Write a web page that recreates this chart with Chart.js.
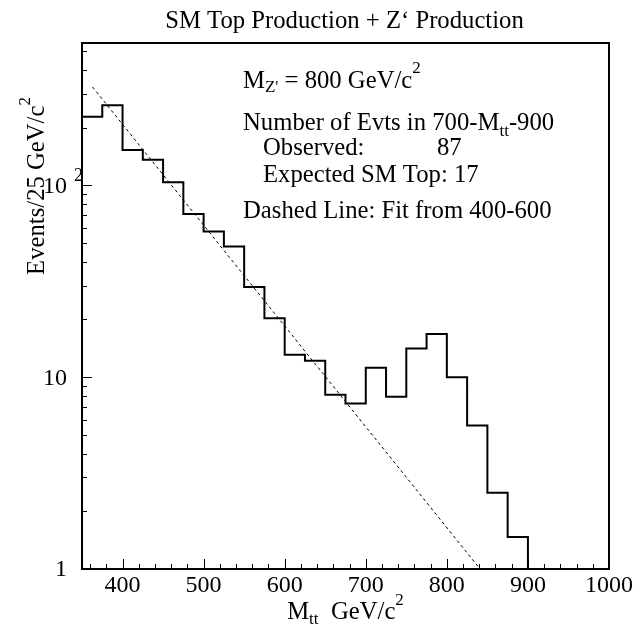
<!DOCTYPE html>
<html>
<head>
<meta charset="utf-8">
<script src="https://cdn.jsdelivr.net/npm/chart.js@4.4.1/dist/chart.umd.min.js"></script>
<style>html,body{margin:0;padding:0;background:#fff}canvas{display:block}</style>
</head>
<body>
<canvas id="c" width="638" height="627"></canvas>
<script>
// ---- data ----
const binLow = [350,375,400,425,450,475,500,525,550,575,600,625,650,675,700,725,750,775,800,825,850,875,900,925,950,975];
const binHigh = 1000;
const counts = [228,262,153,136,104,71,57.5,48,29.5,20.3,13.1,12.2,8.1,7.3,11.2,7.9,14.1,16.8,10,5.6,2.5,1.47,0,0,0,0];
const fitX = [363, 841];
const fitY = [326, 1];
const xTickValues = [400,500,600,700,800,900,1000];
const xTickLabels = ['400','500','600','700','800','900','1000'];
const yTickValues = [1,10,100];
const yTickBase = ['1','10','10'];
const yTickSup = ['','','2'];
const yMinorValues = [2,3,4,5,6,7,8,9,20,30,40,50,60,70,80,90,200,300,400,500];
const xMin = 350, xMax = 1000, yMin = 1, yMax = 553;

const FONT = '"Liberation Serif", "Times New Roman", serif';
const TXT = 24.7, SUB = 17;

function drawRich(ctx, parts, x, y, align){
  let total = 0;
  parts.forEach(p => { ctx.font = p.s + 'px ' + FONT; p.w = ctx.measureText(p.t).width; total += p.w; });
  let cx = align === 'center' ? x - total/2 : (align === 'right' ? x - total : x);
  ctx.textAlign = 'left'; ctx.textBaseline = 'alphabetic';
  parts.forEach(p => { ctx.font = p.s + 'px ' + FONT; ctx.fillText(p.t, cx, y + (p.dy||0)); cx += p.w; });
}

const decor = {
  id: 'decor',
  afterDatasetsDraw(chart){
    const {ctx, chartArea: a, scales: {x, y}} = chart;
    ctx.save();
    ctx.fillStyle = '#000'; ctx.strokeStyle = '#000';
    // ticks (inward)
    ctx.lineWidth = 1;
    ctx.beginPath();
    for (let v = 360; v < xMax; v += 20) {
      const px = Math.round(x.getPixelForValue(v)) + 0.5;
      const len = (v % 100 === 0) ? 10 : 5;
      ctx.moveTo(px, a.bottom); ctx.lineTo(px, a.bottom - len);
    }
    yTickValues.forEach(v => { const py = Math.round(y.getPixelForValue(v)) + 0.5; ctx.moveTo(a.left, py); ctx.lineTo(a.left + 10, py); });
    yMinorValues.forEach(v => { const py = Math.round(y.getPixelForValue(v)) + 0.5; ctx.moveTo(a.left, py); ctx.lineTo(a.left + 5, py); });
    ctx.stroke();
    // frame
    ctx.lineWidth = 2;
    ctx.strokeRect(a.left, a.top, a.right - a.left, a.bottom - a.top);
    // y tick labels
    yTickValues.forEach((v, i) => {
      const py = y.getPixelForValue(v);
      ctx.font = '24px ' + FONT; ctx.textAlign = 'right'; ctx.textBaseline = 'middle';
      ctx.fillText(yTickBase[i], a.left - 15, py + 1);
      if (yTickSup[i]) { ctx.font = '18px ' + FONT; ctx.textAlign = 'left'; ctx.textBaseline = 'alphabetic'; ctx.fillText(yTickSup[i], a.left - 8, py - 4); }
    });
    // title
    const cxp = (a.left + a.right) / 2;
    drawRich(ctx, [{t:'SM Top Production + Z\u2018 Production', s:TXT}], cxp - 1, 28, 'center');
    // x axis title
    drawRich(ctx, [{t:'M', s:TXT}, {t:'tt', s:SUB, dy:5}, {t:'  GeV/c', s:TXT}, {t:'2', s:SUB, dy:-14}], cxp, 619, 'center');
    // y axis title
    ctx.save();
    ctx.translate(44, 186); ctx.rotate(-Math.PI/2);
    drawRich(ctx, [{t:'Events/25 GeV/c', s:TXT}, {t:'2', s:SUB, dy:-14}], 0, 0, 'center');
    ctx.restore();
    // annotations
    drawRich(ctx, [{t:'M', s:TXT}, {t:"Z'", s:SUB, dy:4}, {t:' = 800 GeV/c', s:TXT}, {t:'2', s:SUB, dy:-15}], 243, 88, 'left');
    drawRich(ctx, [{t:'Number of Evts in 700-M', s:TXT}, {t:'tt', s:SUB, dy:6}, {t:'-900', s:TXT}], 243, 130, 'left');
    drawRich(ctx, [{t:'Observed:', s:TXT}], 263, 155, 'left');
    drawRich(ctx, [{t:'87', s:TXT}], 437, 155, 'left');
    drawRich(ctx, [{t:'Expected SM Top: 17', s:TXT}], 263, 182, 'left');
    drawRich(ctx, [{t:'Dashed Line: Fit from 400-600', s:TXT}], 243, 218, 'left');
    ctx.restore();
  }
};

const histPoints = binLow.map((bx, i) => ({x: bx, y: Math.max(counts[i], yMin)}));
histPoints.push({x: binHigh, y: Math.max(counts[counts.length - 1], yMin)});
const fitPoints = fitX.map((fx, i) => ({x: fx, y: fitY[i]}));

new Chart(document.getElementById('c'), {
  type: 'line',
  data: {
    datasets: [
      {label: 'SM Top + Z\u2018', data: histPoints, stepped: 'before', borderColor: '#000', borderWidth: 2, pointRadius: 0, fill: false},
      {label: 'Fit 400-600', data: fitPoints, borderColor: '#000', borderWidth: 1, borderDash: [3, 3], pointRadius: 0, fill: false}
    ]
  },
  options: {
    responsive: false,
    animation: false,
    devicePixelRatio: 1,
    events: [],
    layout: {padding: {top: 43, right: 29, left: 0, bottom: 0}},
    plugins: {legend: {display: false}, title: {display: false}, tooltip: {enabled: false}},
    scales: {
      x: {
        type: 'linear', min: xMin, max: xMax,
        grid: {display: false, drawTicks: false}, border: {display: false},
        afterBuildTicks: s => { s.ticks = xTickValues.map(v => ({value: v})); },
        afterFit: s => { s.height = 58; },
        ticks: {
          autoSkip: false, maxRotation: 0, padding: 2, color: '#000',
          font: {family: FONT, size: 24},
          callback: v => xTickLabels[xTickValues.indexOf(v)]
        }
      },
      y: {
        type: 'logarithmic', min: yMin, max: yMax,
        grid: {display: false, drawTicks: false}, border: {display: false},
        afterFit: s => { s.width = 82; },
        ticks: {display: false}
      }
    }
  },
  plugins: [decor]
});
</script>
</body>
</html>
